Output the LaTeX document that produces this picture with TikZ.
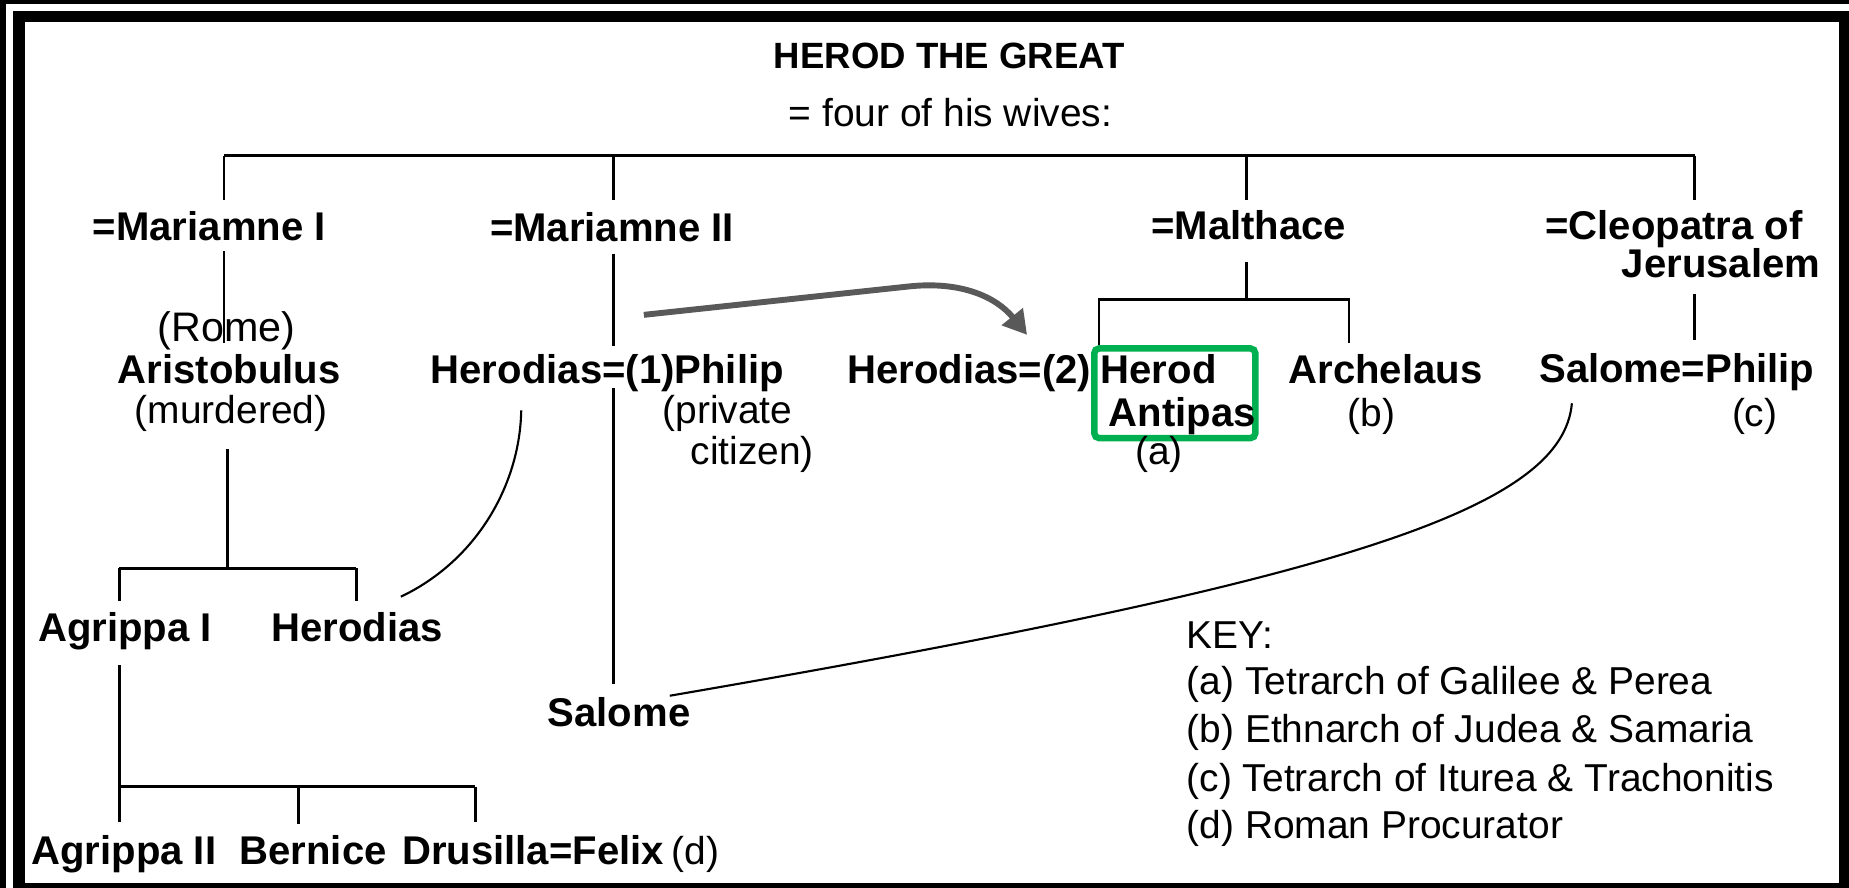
\documentclass[tikz,border=0pt]{standalone}
\usepackage{fontspec}
\setmainfont{Liberation Sans}
\usetikzlibrary{arrows.meta}
\definecolor{boxgreen}{HTML}{00B050}
\definecolor{arrowgray}{HTML}{595959}
\begin{document}
\begin{tikzpicture}[x=0.5pt,y=-0.5pt,
  lbl/.style={inner sep=0pt, anchor=base, font=\fontsize{17}{20}\selectfont\bfseries},
  reg/.style={inner sep=0pt, anchor=base, font=\fontsize{16.5}{20}\selectfont},
  keyline/.style={reg, anchor=base west},
  titlef/.style={inner sep=0pt, anchor=base, font=\fontsize{15.5}{18}\selectfont\bfseries},
  romef/.style={inner sep=0pt, anchor=base, font=\fontsize{17.5}{20}\selectfont},
  tree/.style={line width=1.2pt},
  link/.style={line width=0.9pt},
  arr/.style={line width=2.5pt, draw=arrowgray, -{Triangle[length=10pt,width=11pt]}},
  hibox/.style={draw=boxgreen, line width=2.75pt, rounded corners=2pt, inner sep=0pt}
]
\useasboundingbox (0,0) rectangle (1568,753);
\fill[white] (0,0) rectangle (1568,753);
% frame
\fill[black] (0,0) rectangle (1568,3.4);
\fill[black] (0,0) rectangle (5.1,753);
\fill[black] (11,9.3) rectangle (1568,18.7);
\fill[black] (11,9.3) rectangle (21.2,753);
\fill[black] (1559.5,9.3) rectangle (1568,753);
\fill[black] (11,748.8) rectangle (1568,753);

% texts
\node[titlef] (title) at (805,58) {HEROD THE GREAT};
\node[reg] (wives) at (806,107) {= four of his wives:};
\node[lbl] (mar1) at (177.5,204) {=Mariamne I};
\node[lbl] (mar2) at (519,205) {=Mariamne II};
\node[lbl] (malt) at (1059,203) {=Malthace};
\node[lbl, anchor=base west] (cleo) at (1310,203) {=Cleopatra of};
\node[lbl, anchor=base west] (jeru) at (1375,235) {Jerusalem};
\node[romef] (rome) at (192,290) {(Rome)};
\node[lbl] (arist) at (194.5,325) {Aristobulus};
\node[reg] (murd) at (196,359) {(murdered)};
\node[lbl] (herphil) at (515,325) {Herodias=(1)Philip};
\node[reg] (priv) at (617,359) {(private};
\node[reg] (citz) at (638,394) {citizen)};
\node[lbl] (her2) at (822,325) {Herodias=(2)};
\node[hibox, minimum width=68.25pt, minimum height=38pt] (antbox) at (996.25,333.5) {};
\node[lbl, anchor=base west] (herod) at (933,325) {Herod};
\node[lbl, anchor=base west] (antipas) at (940,362) {Antipas};
\node[reg] (a) at (983,394) {(a)};
\node[lbl] (arch) at (1175,325) {Archelaus};
\node[reg] (b) at (1163,362) {(b)};
\node[lbl] (salphil) at (1422,324) {Salome=Philip};
\node[reg] (c) at (1488,362) {(c)};
\node[lbl] (agr1) at (106,544) {Agrippa I};
\node[lbl] (herlow) at (303,544) {Herodias};
\node[lbl] (sallow) at (525,616) {Salome};
\node[lbl] (agr2) at (105,733) {Agrippa II};
\node[lbl] (bern) at (265.5,733) {Bernice};
\node[lbl] (drus) at (452,733) {Drusilla=Felix};
\node[reg] (d) at (590,733) {(d)};
\node[keyline] (key) at (1006,550) {KEY:};
\node[keyline] (keya) at (1006,589) {(a) Tetrarch of Galilee \& Perea};
\node[keyline] (keyb) at (1006,630) {(b) Ethnarch of Judea \& Samaria};
\node[keyline] (keyc) at (1006,671) {(c) Tetrarch of Iturea \& Trachonitis};
\node[keyline] (keyd) at (1006,711) {(d) Roman Procurator};

% tree coordinates
\coordinate (h1) at (190,132);
\coordinate (h2) at (520,132);
\coordinate (h3) at (1057,132);
\coordinate (h4) at (1437,132);
\draw[tree] (h1) -- (h4);
\draw[tree] (h1) -- ++(0,38);
\draw[tree] (h2) -- ++(0,38);
\draw[tree] (h3) -- ++(0,38);
\draw[tree] (h4) -- ++(0,38);
% Mariamne I line
\coordinate (m1a) at (190,213);
\coordinate (m1b) at (190,291);
\draw[tree] (m1a) -- (m1b);
% Aristobulus children
\coordinate (ar1) at (193,381);
\coordinate (ar2) at (193,482);
\coordinate (arL) at (101,482);
\coordinate (arR) at (302,482);
\draw[tree] (ar1) -- (ar2);
\draw[tree] (arL) -- (arR);
\draw[tree] (arL) -- ++(0,28);
\draw[tree] (arR) -- ++(0,28);
% Agrippa I children
\coordinate (ag1) at (101,564);
\coordinate (agL) at (101,667);
\coordinate (agM) at (253,667);
\coordinate (agR) at (403,667);
\draw[tree] (ag1) -- (agL) -- (agR);
\draw[tree] (agL) -- ++(0,30);
\draw[tree] (agM) -- ++(0,32);
\draw[tree] (agR) -- ++(0,30);
% Mariamne II line
\coordinate (m2a) at (520,215);
\coordinate (m2b) at (520,293);
\coordinate (m2c) at (520,329);
\coordinate (m2d) at (520,580);
\draw[tree] (m2a) -- (m2b);
\draw[tree] (m2c) -- (m2d);
% Malthace
\coordinate (mt1) at (1057,222);
\coordinate (mt2) at (1057,254);
\coordinate (mtL) at (932,254);
\coordinate (mtR) at (1144,254);
\draw[tree] (mt1) -- (mt2);
\draw[tree] (antbox.north west -| mtL) -- (mtL) -- (mtR) -- ++(0,37);
% Cleopatra
\coordinate (cl1) at (1437,249);
\coordinate (cl2) at (1437,288);
\draw[tree] (cl1) -- (cl2);

% identity links
\coordinate (hd1) at (442,348);
\coordinate (hd2) at (340,506);
\draw[link] (hd1) .. controls (441,410) and (405,475) .. (hd2);
\coordinate (sl1) at (1333,342);
\coordinate (sl2) at (568,590);
\draw[link] (sl1) .. controls (1325,430) and (1150,490) .. (sl2);

% gray arrow
\coordinate (ar0) at (546,267);
\coordinate (arE) at (871,284);
\draw[arr] (ar0) -- (770,243) .. controls (815,238) and (845,252) .. (arE);
\end{tikzpicture}
\end{document}
